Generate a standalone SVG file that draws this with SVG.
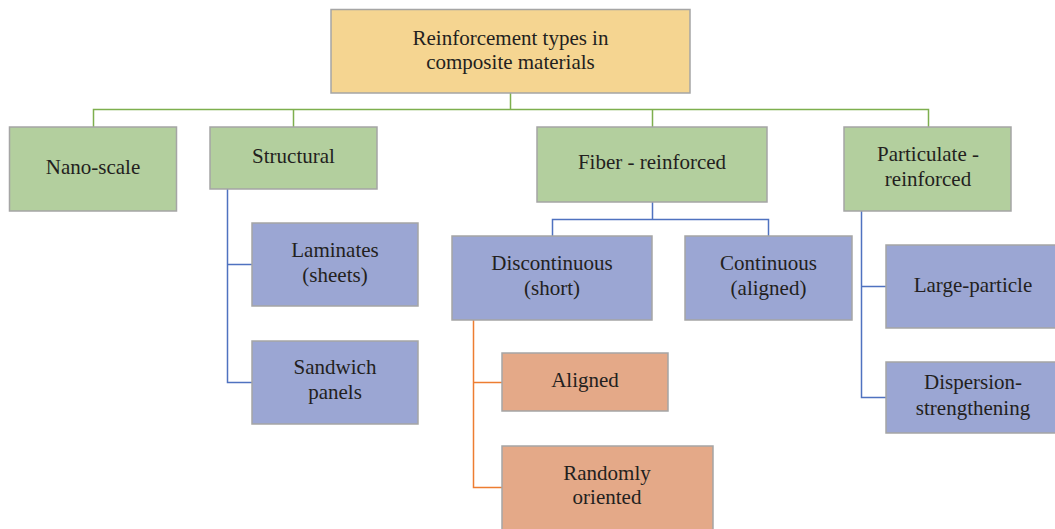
<svg xmlns="http://www.w3.org/2000/svg" width="1055" height="529" viewBox="0 0 1055 529">
<style>
.box{stroke:#A5A5A5;stroke-width:1.5}
.top{fill:#F5D591}
.g{fill:#B3CF9E}
.b{fill:#9BA6D3}
.o{fill:#E4A988}
text{font-family:"Liberation Serif","Times New Roman",serif;font-size:21px;fill:#231F20;text-anchor:middle}
.cg{stroke:#7EAF4E;stroke-width:1.5;fill:none}
.cb{stroke:#4F72C0;stroke-width:1.5;fill:none}
.co{stroke:#ED7D31;stroke-width:1.5;fill:none}
</style>
<rect width="1055" height="529" fill="#FFFFFF"/>
<g id="connectors">
<path class="cg" d="M510.5 93V109.5M93.5 127V109.5H928.5V127M293.5 109.5V127M652.5 109.5V127"/>
<path class="cb" d="M652.5 202V219.5M552.5 236V219.5H768.5V236"/>
<path class="cb" d="M227.5 189V382.5H252M227.5 264.5H252"/>
<path class="cb" d="M861.5 211V397.5H886M861.5 286.5H886"/>
<path class="co" d="M473.5 320V487.5H502M473.5 382.5H502"/>
</g>
<g id="root"><rect class="box top" x="331" y="9.5" width="359" height="83.5"/><text x="510.5" y="45">Reinforcement types in</text><text x="510.5" y="69">composite materials</text></g>
<g id="nano"><rect class="box g" x="9.5" y="127" width="167" height="84"/><text x="93" y="174">Nano-scale</text></g>
<g id="structural"><rect class="box g" x="210" y="127" width="167" height="62"/><text x="293.5" y="163">Structural</text></g>
<g id="fiber"><rect class="box g" x="537" y="127" width="230" height="75"/><text x="652" y="169">Fiber - reinforced</text></g>
<g id="particulate"><rect class="box g" x="844" y="127" width="167" height="84"/><text x="928" y="161">Particulate -</text><text x="928" y="186">reinforced</text></g>
<g id="laminates"><rect class="box b" x="252" y="223" width="166" height="83"/><text x="335" y="257">Laminates</text><text x="335" y="282">(sheets)</text></g>
<g id="sandwich"><rect class="box b" x="252" y="341" width="166" height="83"/><text x="335" y="374">Sandwich</text><text x="335" y="399">panels</text></g>
<g id="discontinuous"><rect class="box b" x="452" y="236" width="200" height="84"/><text x="552" y="270">Discontinuous</text><text x="552" y="295">(short)</text></g>
<g id="continuous"><rect class="box b" x="685" y="236" width="167" height="84"/><text x="768.5" y="270">Continuous</text><text x="768.5" y="295">(aligned)</text></g>
<g id="largeparticle"><rect class="box b" x="886" y="245" width="174" height="83"/><text x="973" y="292">Large-particle</text></g>
<g id="dispersion"><rect class="box b" x="886" y="362" width="174" height="71"/><text x="973" y="389">Dispersion-</text><text x="973" y="415">strengthening</text></g>
<g id="aligned"><rect class="box o" x="502" y="353" width="166" height="58"/><text x="585" y="387">Aligned</text></g>
<g id="randomly"><rect class="box o" x="502" y="446" width="211" height="86"/><text x="607" y="480">Randomly</text><text x="607" y="504">oriented</text></g>
</svg>
